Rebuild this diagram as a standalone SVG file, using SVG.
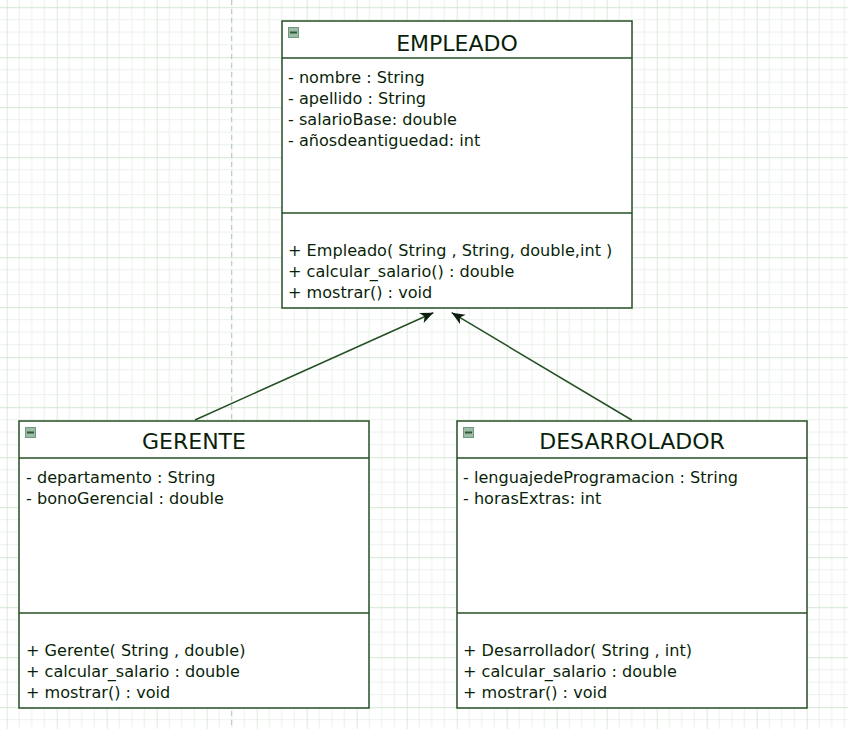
<svg xmlns="http://www.w3.org/2000/svg" width="848" height="729" viewBox="0 0 848 729">
  <defs>
    <pattern id="grid" patternUnits="userSpaceOnUse" x="6.7" y="7.2" width="50" height="50">
      <path d="M12.5,0V50M25,0V50M37.5,0V50M0,12.5H50M0,25H50M0,37.5H50" stroke="#eaf1ea" stroke-width="1" fill="none"/>
      <path d="M0,0V50M0,0H50" stroke="#c9e0c9" stroke-width="1.3" fill="none"/>
    </pattern>
    <marker id="arr" markerUnits="userSpaceOnUse" markerWidth="14" markerHeight="12" refX="13" refY="5.5" orient="auto">
      <path d="M0,0 L13,5.5 L0,11 L3.5,5.5 z" fill="#0f1f0f"/>
    </marker>
    <g id="icon">
      <rect x="0.5" y="0.5" width="10" height="10" fill="#9dbba6" stroke="#6f9a7c" stroke-width="1"/>
      <rect x="2" y="4.5" width="7" height="2" fill="#2f5a3a"/>
    </g>
  </defs>
  <style>
    .box { fill: #ffffff; stroke: #244f24; stroke-width: 1.5; }
    .div { stroke: #244f24; stroke-width: 1.5; }
    .title { font-family: "DejaVu Sans", sans-serif; font-size: 22px; fill: #0a1f0a; text-anchor: middle; }
    .txt { font-family: "DejaVu Sans", sans-serif; font-size: 16.1px; fill: #0a1f0a; }
    .conn { stroke: #244f24; stroke-width: 1.5; fill: none; }
  </style>
  <rect width="848" height="729" fill="#ffffff"/>
  <rect width="848" height="729" fill="url(#grid)"/>
  <line x1="231.7" y1="0" x2="231.7" y2="729" stroke="#b4c4b4" stroke-width="1" stroke-dasharray="5,4"/>

  <g id="connectors">
    <line class="conn" x1="195" y1="420" x2="433.3" y2="312.7" marker-end="url(#arr)"/>
    <line class="conn" x1="631.7" y1="420" x2="451.7" y2="312.7" marker-end="url(#arr)"/>
  </g>

  <g id="empleado">
    <rect class="box" x="282" y="21" width="350" height="287"/>
    <line class="div" x1="282" y1="58" x2="632" y2="58"/>
    <line class="div" x1="282" y1="213" x2="632" y2="213"/>
    <use href="#icon" x="288" y="27"/>
    <text class="title" x="457" y="51">EMPLEADO</text>
    <text class="txt" x="288" y="83">- nombre : String</text>
    <text class="txt" x="288" y="104">- apellido : String</text>
    <text class="txt" x="288" y="125">- salarioBase: double</text>
    <text class="txt" x="288" y="146">- añosdeantiguedad: int</text>
    <text class="txt" x="288" y="256">+ Empleado( String , String, double,int )</text>
    <text class="txt" x="288" y="277">+ calcular_salario() : double</text>
    <text class="txt" x="288" y="298">+ mostrar() : void</text>
  </g>

  <g id="gerente">
    <rect class="box" x="19" y="421" width="350" height="287"/>
    <line class="div" x1="19" y1="458" x2="369" y2="458"/>
    <line class="div" x1="19" y1="613" x2="369" y2="613"/>
    <use href="#icon" x="25" y="427"/>
    <text class="title" x="194" y="449">GERENTE</text>
    <text class="txt" x="26" y="483">- departamento : String</text>
    <text class="txt" x="26" y="504">- bonoGerencial : double</text>
    <text class="txt" x="26" y="656">+ Gerente( String , double)</text>
    <text class="txt" x="26" y="677">+ calcular_salario : double</text>
    <text class="txt" x="26" y="698">+ mostrar() : void</text>
  </g>

  <g id="desarrolador">
    <rect class="box" x="457" y="421" width="350" height="287"/>
    <line class="div" x1="457" y1="458" x2="807" y2="458"/>
    <line class="div" x1="457" y1="613" x2="807" y2="613"/>
    <use href="#icon" x="463" y="427"/>
    <text class="title" x="632" y="449">DESARROLADOR</text>
    <text class="txt" x="463" y="483">- lenguajedeProgramacion : String</text>
    <text class="txt" x="463" y="504">- horasExtras: int</text>
    <text class="txt" x="463" y="656">+ Desarrollador( String , int)</text>
    <text class="txt" x="463" y="677">+ calcular_salario : double</text>
    <text class="txt" x="463" y="698">+ mostrar() : void</text>
  </g>
</svg>
